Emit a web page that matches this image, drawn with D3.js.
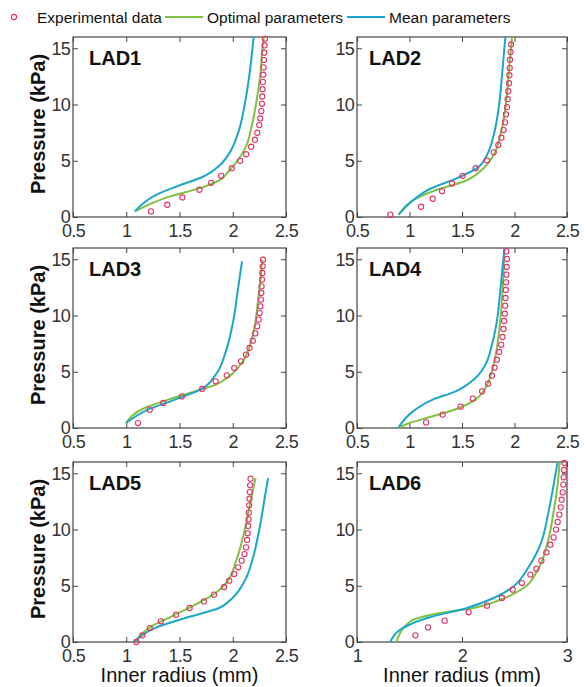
<!DOCTYPE html>
<html lang="en">
<head>
<meta charset="UTF-8">
<title>Pressure vs inner radius, LAD1-6</title>
<script src="https://d3js.org/d3.v7.min.js"></script>
<style>
  body { margin: 0; background: #fff; font-family: "Liberation Sans", Arial, sans-serif; }
  svg text { fill: #111; }
  .tick text { font-size: 18px; fill: #333; letter-spacing: -0.7px; }
  .tick line { stroke: #444; }
  .domain { display: none; }
</style>
</head>
<body>
<svg id="chart" width="587" height="687"></svg>
<script>
// ---- data (radius in mm, pressure in kPa) ----
const panelNames = ["LAD1", "LAD2", "LAD3", "LAD4", "LAD5", "LAD6"];
const xDomains = [[0.5, 2.5], [0.5, 2.5], [0.5, 2.5], [0.5, 2.5], [0.5, 2.5], [1, 3]];
const xTicks = [[0.5, 1, 1.5, 2, 2.5], [0.5, 1, 1.5, 2, 2.5], [0.5, 1, 1.5, 2, 2.5],
                [0.5, 1, 1.5, 2, 2.5], [0.5, 1, 1.5, 2, 2.5], [1, 2, 3]];
const yTicks = [0, 5, 10, 15];

const lad1ExpR = [1.232, 1.385, 1.527, 1.687, 1.797, 1.891, 1.991, 2.070, 2.126, 2.173, 2.208, 2.230, 2.249, 2.258, 2.268, 2.274, 2.277, 2.280, 2.283, 2.286, 2.290, 2.293, 2.296, 2.299, 2.302];
const lad1ExpP = [0.50, 1.09, 1.74, 2.42, 3.04, 3.66, 4.34, 4.99, 5.58, 6.25, 6.87, 7.49, 8.17, 8.76, 9.41, 10.06, 10.71, 11.36, 12.01, 12.65, 13.30, 13.95, 14.60, 15.25, 15.84];
const lad1OptR = [1.081, 1.411, 1.693, 1.881, 1.960, 2.038, 2.117, 2.180, 2.227, 2.258, 2.290, 2.296];
const lad1OptP = [0.50, 1.83, 2.57, 3.30, 4.04, 4.93, 6.10, 8.17, 10.53, 12.60, 15.84, 16.0];
const lad1MeanR = [1.081, 1.285, 1.473, 1.724, 1.881, 1.976, 2.054, 2.117, 2.164, 2.195, 2.197];
const lad1MeanP = [0.50, 1.98, 2.71, 3.60, 4.63, 5.81, 7.58, 10.24, 13.19, 15.84, 16.0];

const lad2ExpR = [0.817, 1.110, 1.221, 1.310, 1.405, 1.506, 1.630, 1.738, 1.802, 1.846, 1.875, 1.897, 1.910, 1.919, 1.929, 1.935, 1.941, 1.948, 1.951, 1.954, 1.957, 1.963, 1.967];
const lad2ExpP = [0.21, 0.91, 1.62, 2.30, 2.98, 3.66, 4.34, 5.04, 5.75, 6.40, 7.05, 7.73, 8.41, 9.12, 9.76, 10.47, 11.18, 11.89, 12.60, 13.24, 13.98, 14.66, 15.34];
const lad2OptR = [0.897, 1.071, 1.262, 1.516, 1.706, 1.802, 1.865, 1.913, 1.944, 1.976];
const lad2OptP = [0.21, 1.68, 2.42, 3.16, 4.34, 5.52, 7.29, 9.65, 12.60, 16.0];
const lad2MeanR = [0.897, 1.040, 1.198, 1.452, 1.643, 1.738, 1.802, 1.849, 1.881, 1.913];
const lad2MeanP = [0.21, 1.53, 2.51, 3.45, 4.34, 5.52, 7.29, 9.65, 12.60, 16.0];

const lad3ExpR = [1.110, 1.221, 1.348, 1.522, 1.713, 1.840, 1.944, 2.014, 2.078, 2.125, 2.157, 2.189, 2.211, 2.230, 2.243, 2.252, 2.259, 2.265, 2.268, 2.271, 2.275, 2.278, 2.281, 2.284];
const lad3ExpP = [0.44, 1.63, 2.22, 2.81, 3.47, 4.15, 4.68, 5.33, 5.93, 6.52, 7.11, 7.76, 8.41, 9.04, 9.63, 10.22, 10.81, 11.41, 12.00, 12.59, 13.19, 13.78, 14.37, 14.96];
const lad3OptR = [0.998, 1.173, 1.395, 1.649, 1.840, 1.967, 2.094, 2.189, 2.237, 2.278];
const lad3OptP = [0.44, 1.78, 2.52, 3.26, 3.85, 4.59, 5.93, 8.30, 11.26, 14.96];
const lad3MeanR = [0.998, 1.205, 1.459, 1.713, 1.840, 1.935, 1.998, 2.046, 2.087];
const lad3MeanP = [0.44, 1.63, 2.52, 3.50, 4.74, 6.81, 9.19, 12.15, 14.81];

const lad4ExpR = [1.158, 1.315, 1.487, 1.603, 1.691, 1.748, 1.785, 1.810, 1.832, 1.854, 1.873, 1.886, 1.895, 1.901, 1.908, 1.911, 1.914, 1.917, 1.920, 1.923, 1.926, 1.929, 1.923];
const lad4ExpP = [0.50, 1.19, 1.90, 2.61, 3.26, 3.94, 4.65, 5.36, 6.07, 6.76, 7.41, 8.09, 8.80, 9.51, 10.16, 10.87, 11.56, 12.27, 12.95, 13.63, 14.31, 15.02, 15.70];
const lad4OptR = [0.892, 1.000, 1.221, 1.472, 1.628, 1.723, 1.785, 1.832, 1.864, 1.886, 1.904];
const lad4OptP = [0.0, 0.44, 1.04, 1.78, 2.52, 3.56, 5.04, 7.11, 9.48, 12.15, 16.0];
const lad4MeanR = [0.892, 1.033, 1.221, 1.440, 1.628, 1.723, 1.785, 1.832, 1.864, 1.904];
const lad4MeanP = [0.0, 1.48, 2.52, 3.26, 4.44, 5.63, 7.41, 9.48, 12.15, 16.0];

const lad5ExpR = [1.094, 1.151, 1.221, 1.325, 1.468, 1.595, 1.729, 1.824, 1.919, 1.967, 2.014, 2.052, 2.084, 2.110, 2.125, 2.135, 2.141, 2.144, 2.148, 2.151, 2.154, 2.157, 2.160, 2.163, 2.167];
const lad5ExpP = [0.0, 0.59, 1.24, 1.84, 2.43, 3.02, 3.61, 4.21, 4.89, 5.45, 6.04, 6.64, 7.23, 7.82, 8.41, 9.07, 9.66, 10.31, 10.90, 11.50, 12.15, 12.74, 13.33, 13.93, 14.52];
const lad5OptR = [1.078, 1.237, 1.427, 1.649, 1.840, 1.951, 2.030, 2.110, 2.173, 2.214];
const lad5OptP = [0.0, 1.39, 2.28, 3.32, 4.36, 5.39, 7.17, 9.84, 12.80, 14.58];
const lad5MeanR = [1.078, 1.268, 1.554, 1.871, 1.998, 2.110, 2.189, 2.252, 2.300, 2.332];
const lad5MeanP = [0.0, 1.24, 2.13, 3.02, 3.91, 5.39, 7.47, 10.13, 12.80, 14.58];

const lad6ExpR = [1.556, 1.676, 1.835, 2.063, 2.238, 2.381, 2.483, 2.571, 2.651, 2.708, 2.756, 2.803, 2.841, 2.873, 2.895, 2.911, 2.927, 2.940, 2.949, 2.959, 2.965, 2.968, 2.971, 2.975];
const lad6ExpP = [0.59, 1.30, 1.90, 2.64, 3.23, 3.91, 4.65, 5.24, 5.99, 6.52, 7.23, 7.97, 8.65, 9.30, 9.99, 10.67, 11.32, 11.97, 12.65, 13.30, 13.99, 14.64, 15.29, 15.91];
const lad6OptR = [1.375, 1.508, 1.794, 2.111, 2.365, 2.587, 2.714, 2.810, 2.873, 2.911, 2.930];
const lad6OptP = [0.0, 1.84, 2.58, 3.02, 3.76, 4.80, 6.28, 8.65, 11.61, 13.99, 16.0];
const lad6MeanR = [1.317, 1.413, 1.667, 2.048, 2.302, 2.492, 2.619, 2.746, 2.825, 2.873, 2.911];
const lad6MeanP = [0.0, 1.10, 2.13, 3.02, 3.91, 4.95, 6.43, 8.65, 11.61, 13.99, 16.0];

const expR = [lad1ExpR, lad2ExpR, lad3ExpR, lad4ExpR, lad5ExpR, lad6ExpR];
const expP = [lad1ExpP, lad2ExpP, lad3ExpP, lad4ExpP, lad5ExpP, lad6ExpP];
const optR = [lad1OptR, lad2OptR, lad3OptR, lad4OptR, lad5OptR, lad6OptR];
const optP = [lad1OptP, lad2OptP, lad3OptP, lad4OptP, lad5OptP, lad6OptP];
const meanR = [lad1MeanR, lad2MeanR, lad3MeanR, lad4MeanR, lad5MeanR, lad6MeanR];
const meanP = [lad1MeanP, lad2MeanP, lad3MeanP, lad4MeanP, lad5MeanP, lad6MeanP];

const legendLabels = ["Experimental data", "Optimal parameters", "Mean parameters"];

// ---- layout ----
const red = "#e4326b", green = "#7fc241", blue = "#1ca7c9";
const colLeft = [73, 357], colWidth = [213, 210];
const rowTop = [37, 248, 462], plotH = 180;

const svg = d3.select("#chart");

panelNames.forEach((name, i) => {
  const col = i % 2, row = Math.floor(i / 2);
  const w = colWidth[col];
  const g = svg.append("g").attr("transform", `translate(${colLeft[col]},${rowTop[row]})`);

  const x = d3.scaleLinear().domain(xDomains[i]).range([0, w]);
  const y = d3.scaleLinear().domain([0, 16]).range([plotH, 0]);

  // inward ticks on all four sides, labels bottom and left only
  g.append("g").attr("transform", `translate(0,${plotH})`)
    .call(d3.axisBottom(x).tickValues(xTicks[i]).tickSize(-5).tickSizeOuter(0).tickPadding(7).tickFormat(d3.format("")));
  g.append("g")
    .call(d3.axisTop(x).tickValues(xTicks[i]).tickSize(-5).tickSizeOuter(0).tickFormat(""));
  g.append("g")
    .call(d3.axisLeft(y).tickValues(yTicks).tickSize(-5).tickSizeOuter(0).tickPadding(3));
  g.append("g").attr("transform", `translate(${w},0)`)
    .call(d3.axisRight(y).tickValues(yTicks).tickSize(-5).tickSizeOuter(0).tickFormat(""));

  g.append("rect").attr("width", w).attr("height", plotH)
    .attr("fill", "none").attr("stroke", "#444").attr("stroke-width", 1.2);

  const line = d3.line().x(d => x(d[0])).y(d => y(d[1])).curve(d3.curveMonotoneY);

  g.append("path").datum(d3.zip(optR[i], optP[i]))
    .attr("d", line).attr("fill", "none").attr("stroke", green).attr("stroke-width", 2);
  g.append("path").datum(d3.zip(meanR[i], meanP[i]))
    .attr("d", line).attr("fill", "none").attr("stroke", blue).attr("stroke-width", 2);

  g.selectAll(".pt").data(d3.zip(expR[i], expP[i])).enter().append("circle")
    .attr("cx", d => x(d[0])).attr("cy", d => y(d[1])).attr("r", 2.6)
    .attr("fill", "none").attr("stroke", red).attr("stroke-width", 1.1);

  g.append("text").attr("x", col === 0 ? 16 : 12).attr("y", 28)
    .style("font-size", "20px").style("font-weight", "bold").text(name);

  if (col === 0) {
    svg.append("text")
      .attr("transform", `translate(45,${rowTop[row] + plotH / 2 - 3}) rotate(-90)`)
      .attr("text-anchor", "middle")
      .style("font-size", "20px").style("font-weight", "bold")
      .text("Pressure (kPa)");
  }
  if (row === 2) {
    svg.append("text")
      .attr("x", colLeft[col] + w / 2).attr("y", 682)
      .attr("text-anchor", "middle")
      .style("font-size", "20px")
      .text("Inner radius (mm)");
  }
});

// ---- legend ----
const leg = svg.append("g").attr("transform", "translate(0,17)");
leg.append("circle").attr("cx", 14).attr("cy", 0).attr("r", 2.6)
  .attr("fill", "none").attr("stroke", red).attr("stroke-width", 1.1);
leg.append("text").attr("x", 37).attr("y", 5.5).style("font-size", "15.5px").text(legendLabels[0]);
leg.append("line").attr("x1", 165).attr("x2", 203).attr("stroke", green).attr("stroke-width", 2);
leg.append("text").attr("x", 207).attr("y", 5.5).style("font-size", "15.5px").text(legendLabels[1]);
leg.append("line").attr("x1", 347).attr("x2", 385).attr("stroke", blue).attr("stroke-width", 2);
leg.append("text").attr("x", 389).attr("y", 5.5).style("font-size", "15.5px").text(legendLabels[2]);
</script>
</body>
</html>
